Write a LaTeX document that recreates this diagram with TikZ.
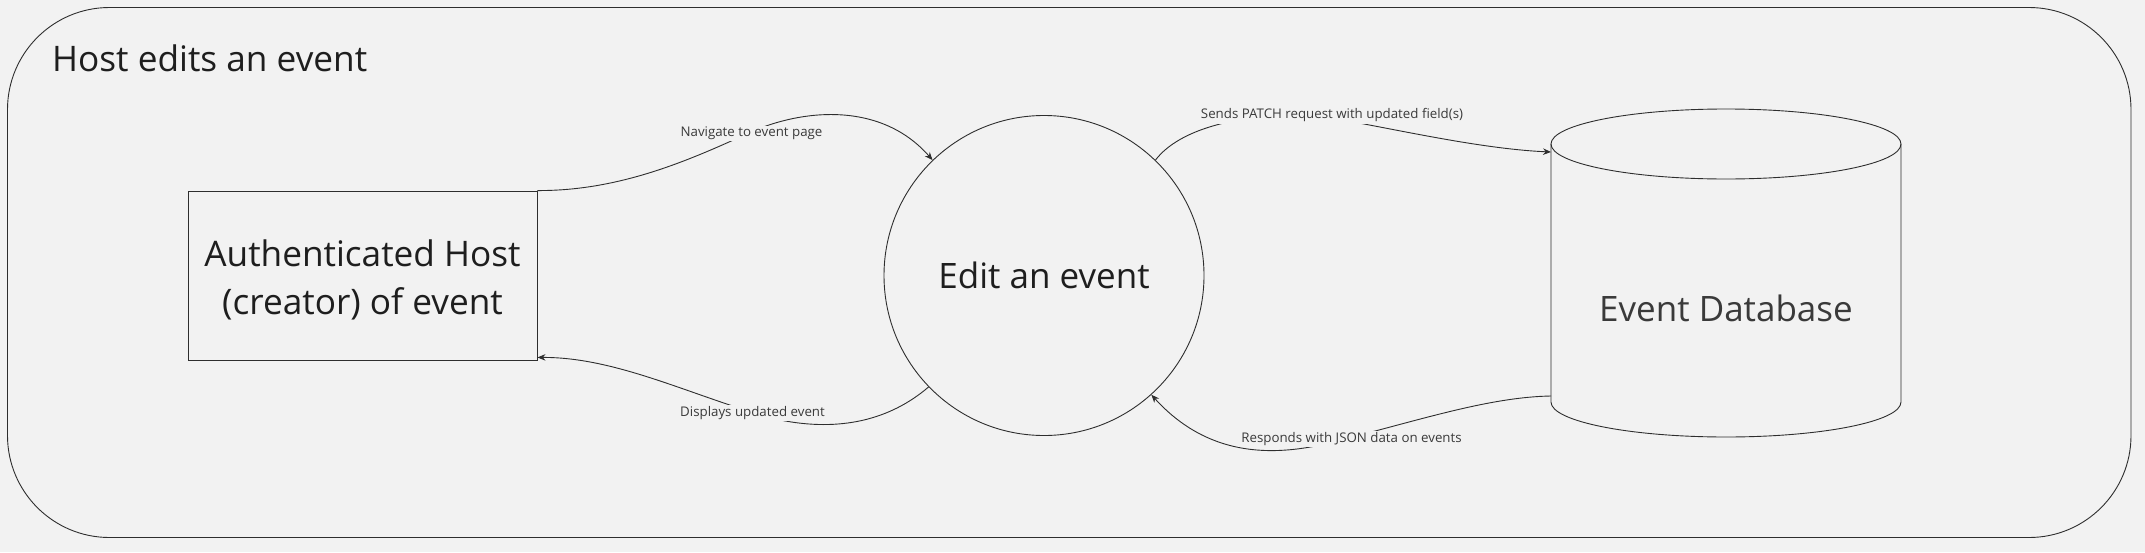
\documentclass[tikz,border=0pt]{standalone}
\usepackage{fontspec}
\setmainfont{Open Sans}
\usetikzlibrary{arrows.meta}
\definecolor{bg}{HTML}{F2F2F2}
\definecolor{ln}{HTML}{2E2E2E}
\definecolor{tx}{HTML}{1E1E1E}
\definecolor{lt}{HTML}{3A3A3A}
\begin{document}
\begin{tikzpicture}[x=1pt,y=-1pt,
  shapeline/.style={draw=ln, line width=0.9pt},
  conn/.style={draw=ln, line width=0.9pt, -{Stealth[length=8pt,width=6.5pt]}},
  lbl/.style={fill=bg, inner xsep=3pt, inner ysep=1.5pt, text=lt, font=\fontsize{13.3}{16}\selectfont},
  titletext/.style={inner sep=0pt, text=tx, font=\fontsize{35.2}{42}\selectfont},
  hostbox/.style={shapeline, rectangle, minimum width=349pt, minimum height=169pt, inner sep=0pt, align=center, text=tx},
  hosttext/.style={inner sep=0pt, align=center, text=tx, font=\fontsize{35.2}{48}\selectfont},
  procircle/.style={shapeline, circle, minimum size=320pt, inner sep=0pt, text=tx, font=\fontsize{35}{42}\selectfont},
  dbtext/.style={inner sep=0pt, text=lt, font=\fontsize{35}{42}\selectfont}]
\fill[bg] (0,0) rectangle (2145,552);
\useasboundingbox (0,0) rectangle (2145,552);
% outer frame
\draw[shapeline, rounded corners=102pt] (7.5,7.5) rectangle (2131,537.5);
\node[titletext, anchor=base west] (title) at (52,71) {Host edits an event};
% nodes
\node[hostbox] (host) at (362.5,275.5) {};
\node[hosttext] (hostlabel) at (362.5,279.5) {Authenticated Host\\(creator) of event};
\node[procircle] (circ) at (1044,275.5) {Edit an event};
% database cylinder
\draw[shapeline] (1726,144) ellipse [x radius=175pt, y radius=35pt];
\draw[shapeline] (1551,144) -- (1551,402) .. controls (1551,421.3) and (1629.4,437) .. (1726,437) .. controls (1822.6,437) and (1901,421.3) .. (1901,402) -- (1901,144);
\node[dbtext] (db) at (1726,308) {Event Database};
\coordinate (dbin) at (1551,152);
\coordinate (dbout) at (1551,396);
% connectors
\draw[conn] (host.north east) .. controls (620,191) and (690,160) .. (751,132) .. controls (800,110) and (880,100) .. (circ.134)
  node[lbl] at (751.5,133.5) {Navigate to event page};
\draw[conn] (circ.46.5) .. controls (1180,128) and (1240,115) .. (1300,115) .. controls (1340,115) and (1460,148) .. (dbin)
  node[lbl] at (1332,115.5) {Sends PATCH request with updated field(s)};
\draw[conn] (circ.224) .. controls (890,420) and (840,432) .. (780,420) .. controls (700,400) and (620,357) .. ([yshift=3pt]host.south east)
  node[lbl] at (752.5,413) {Displays updated event};
\draw[conn] (dbout) .. controls (1490,397) and (1420,420) .. (1348,438) .. controls (1290,455) and (1215,465) .. (circ.312)
  node[lbl] at (1351.5,439) {Responds with JSON data on events};
\end{tikzpicture}
\end{document}
